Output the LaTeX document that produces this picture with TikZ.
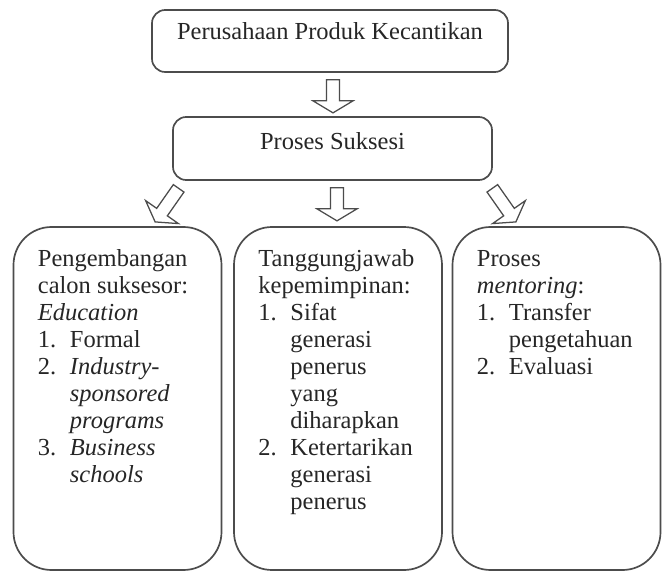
\documentclass[tikz,border=0pt]{standalone}
\usepackage{fontspec}
\setmainfont{Liberation Serif}
\usetikzlibrary{calc}

\newcommand{\listnum}[1]{\makebox[0.8cm][l]{#1}}

\tikzset{
	box/.style={draw=black!70, line width=1.2pt, fill=white, inner sep=0pt},
	boxtext/.style={inner sep=0pt, text=black!85},
	arrowline/.style={draw=black!70, line width=0.9pt, fill=white, line join=miter},
	pics/blockarrow/.style={code={
		\draw[arrowline] (-6.5,0) -- (-6.5,#1-12) -- (-20,#1-12) -- (0,#1) -- (20,#1-12) -- (6.5,#1-12) -- (6.5,0) -- cycle;
	}}
}

\begin{document}
\begin{tikzpicture}[x=0.025cm, y=-0.025cm, font={\fontsize{17.4pt}{19.2pt}\selectfont}]

	\def\px{0.025cm}
	\def\boxwidth{208}
	\def\boxheight{343}
	\def\boxmid{398.5}

	\path[use as bounding box, fill=white] (0,0) rectangle (663,571);

	\node[box, rounded corners=0.33cm, minimum width=356*\px, minimum height=62*\px] (perusahaan) at (330,41) {};
	\node[boxtext, anchor=base] (perusahaantext) at ($(perusahaan.north)+(0,30)$) {Perusahaan Produk Kecantikan};

	\node[box, rounded corners=0.33cm, minimum width=319*\px, minimum height=63*\px] (suksesi) at (332.5,148.5) {};
	\node[boxtext, anchor=base] (suksesitext) at ($(suksesi.north)+(0,33)$) {Proses Suksesi};

	\foreach \name/\cx in {dev/117.5, duty/338, mentor/556.5} {
		\node[box, rounded corners=0.95cm, minimum width=\boxwidth*\px, minimum height=\boxheight*\px] (\name) at (\cx,\boxmid) {};
	}

	\pic at ($(perusahaan.south)+(3,7)$) {blockarrow=33};
	\pic at ($(suksesi.south)+(4.5,7)$) {blockarrow=33};
	\pic[rotate=-35] at ($(suksesi.south west)+(6.5,7.5)$) {blockarrow=41};
	\pic[rotate=35] at ($(suksesi.south east)+(-0.5,7.5)$) {blockarrow=41};

	\node[boxtext, anchor=base west] (devtext) at ($(dev.north west)+(25,40)$) {\begin{tabular}[t]{@{}l@{}}
		Pengembangan\\
		calon suksesor:\\
		\textit{Education}\\
		\listnum{1.}Formal\\
		\listnum{2.}\textit{Industry-}\\
		\listnum{}\textit{sponsored}\\
		\listnum{}\textit{programs}\\
		\listnum{3.}\textit{Business}\\
		\listnum{}\textit{schools}
	\end{tabular}};

	\node[boxtext, anchor=base west] (dutytext) at ($(duty.north west)+(25,40)$) {\begin{tabular}[t]{@{}l@{}}
		Tanggungjawab\\
		kepemimpinan:\\
		\listnum{1.}Sifat\\
		\listnum{}generasi\\
		\listnum{}penerus\\
		\listnum{}yang\\
		\listnum{}diharapkan\\
		\listnum{2.}Ketertarikan\\
		\listnum{}generasi\\
		\listnum{}penerus
	\end{tabular}};

	\node[boxtext, anchor=base west] (mentortext) at ($(mentor.north west)+(25,40)$) {\begin{tabular}[t]{@{}l@{}}
		Proses\\
		\textit{mentoring}:\\
		\listnum{1.}Transfer\\
		\listnum{}pengetahuan\\
		\listnum{2.}Evaluasi
	\end{tabular}};

\end{tikzpicture}
\end{document}
